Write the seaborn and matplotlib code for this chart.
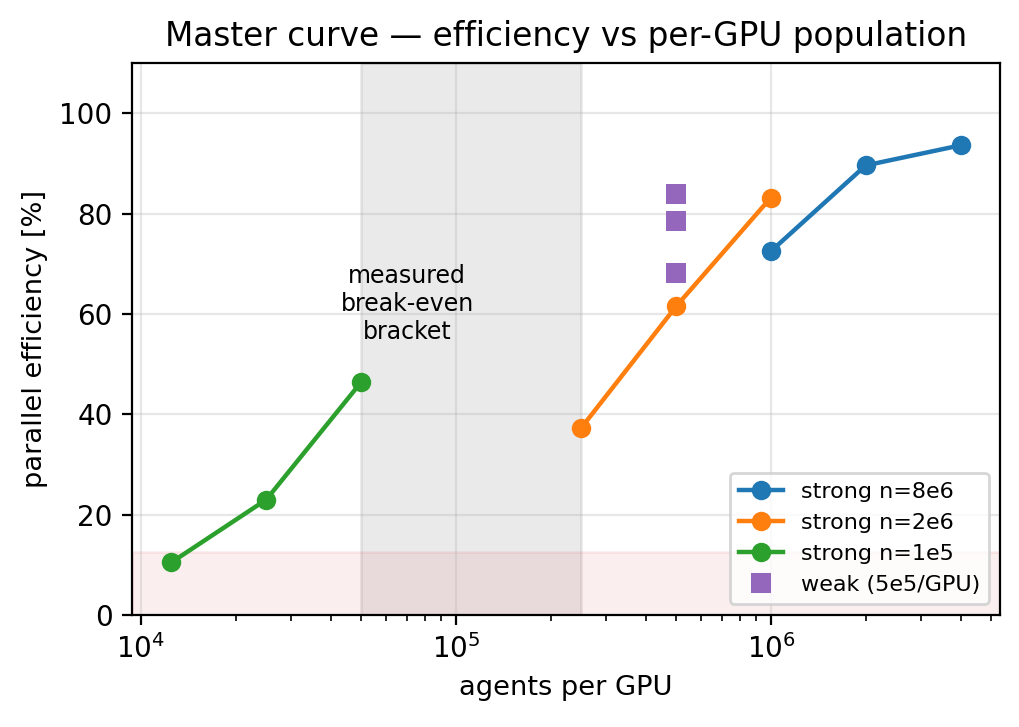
import numpy as np
import pandas as pd
import matplotlib
matplotlib.use("Agg")
import matplotlib.pyplot as plt
import seaborn as sns

# strong scaling runs, per-GPU population vs efficiency
x_8e6 = [1e6, 2e6, 4e6]
eff_8e6 = [72.5, 89.6, 93.6]
x_2e6 = [2.5e5, 5e5, 1e6]
eff_2e6 = [37.3, 61.5, 83.2]
x_1e5 = [1.25e4, 2.5e4, 5e4]
eff_1e5 = [10.5, 23.0, 46.4]

# weak scaling (5e5 agents per GPU)
x_weak = [5e5, 5e5, 5e5]
eff_weak = [84.0, 78.6, 68.1]

bracket = (5e4, 2.5e5)
floor_eff = 12.5

fig, ax = plt.subplots(figsize=(5.1, 3.635), dpi=200)
fig.subplots_adjust(left=0.1294, right=0.9804, top=0.9133, bottom=0.154)

ax.axvspan(bracket[0], bracket[1], color="grey", alpha=0.16, zorder=0)
ax.axhspan(0, floor_eff, color="tab:red", alpha=0.08, zorder=0)

sns.lineplot(x=x_8e6, y=eff_8e6, ax=ax, color="tab:blue", marker="o",
             markersize=7, markeredgewidth=0, linewidth=1.6, label="strong n=8e6")
sns.lineplot(x=x_2e6, y=eff_2e6, ax=ax, color="tab:orange", marker="o",
             markersize=7, markeredgewidth=0, linewidth=1.6, label="strong n=2e6")
sns.lineplot(x=x_1e5, y=eff_1e5, ax=ax, color="tab:green", marker="o",
             markersize=7, markeredgewidth=0, linewidth=1.6, label="strong n=1e5")
ax.plot(x_weak, eff_weak, ls="none", marker="s", markersize=7,
        markeredgewidth=0, color="tab:purple", label="weak (5e5/GPU)")

ax.text(7e4, 62, "measured\nbreak-even\nbracket",
        ha="center", va="center", fontsize=8.5)

ax.set_xscale("log")
ax.set_ylim(0, 110)
ax.grid(True, alpha=0.3)
ax.set_xlabel("agents per GPU", fontsize=9.8)
ax.set_ylabel("parallel efficiency [%]", fontsize=9.8)
ax.set_title("Master curve — efficiency vs per-GPU population", fontsize=11.8)
ax.legend(loc="lower right", fontsize=8)

plt.savefig("out.png", dpi=200)
